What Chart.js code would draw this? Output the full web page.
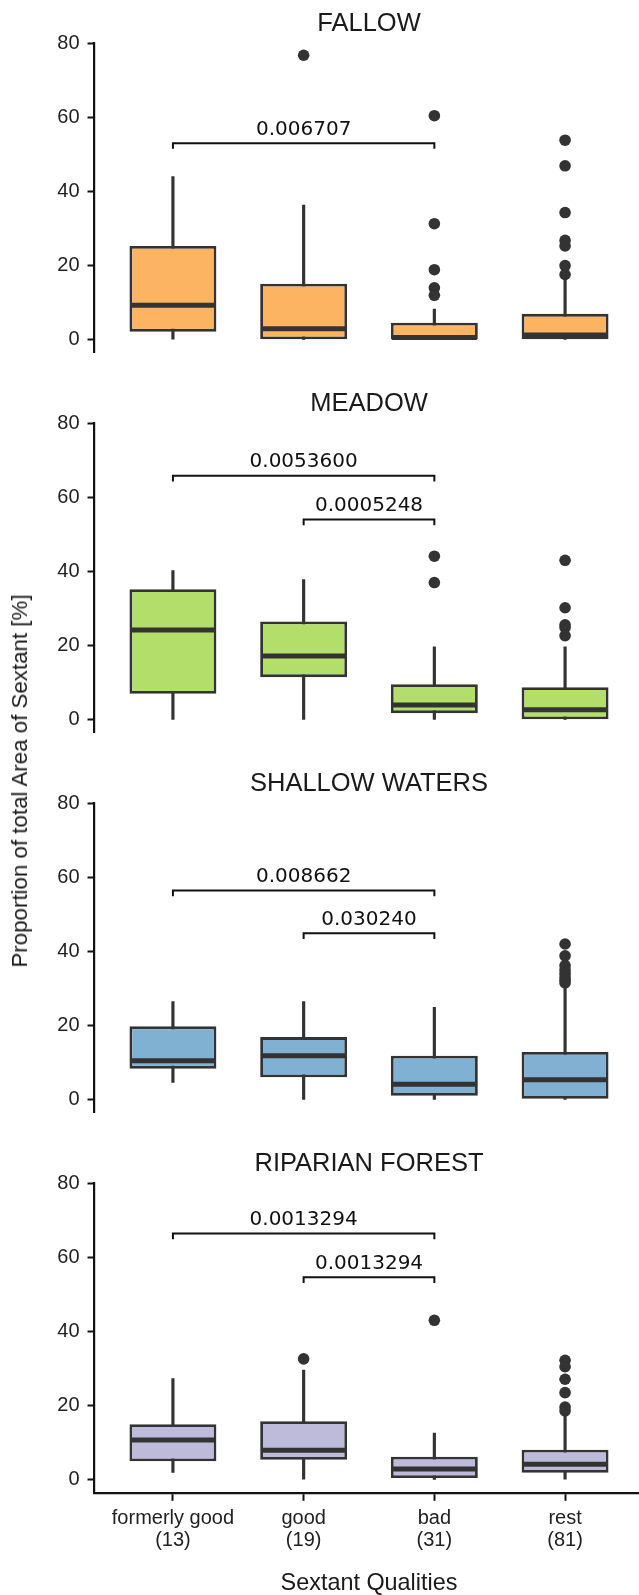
<!DOCTYPE html>
<html>
<head>
<meta charset="utf-8">
<title>Sextant qualities</title>
<script src="https://cdn.jsdelivr.net/npm/chart.js@4.4.1/dist/chart.umd.min.js"></script>
<style>
  html, body { margin: 0; padding: 0; background: #fff; }
  #wrap { position: relative; width: 639px; height: 1595px; overflow: hidden; }
  #wrap canvas { position: absolute; left: 0; }
  #ytitle {
    position: absolute; left: 20px; top: 781px;
    transform: translate(-50%, -50%) rotate(-90deg);
    white-space: nowrap; color: #1a1a1a;
    font: 22.3px 'Liberation Sans', Arial, sans-serif;
  }
</style>
</head>
<body>
<div id="wrap">
  <canvas id="c0" width="660" height="380" style="top:0px"></canvas>
  <canvas id="c1" width="660" height="380" style="top:380px"></canvas>
  <canvas id="c2" width="660" height="380" style="top:760px"></canvas>
  <canvas id="c3" width="660" height="455" style="top:1140px"></canvas>
  <div id="ytitle">Proportion of total Area of Sextant [%]</div>
</div>
<script>
// categories / tick labels
var categories = ['formerly good', 'good', 'bad', 'rest'];
var groupSizes = ['(13)', '(19)', '(31)', '(81)'];
var yTicks = [0, 20, 40, 60, 80];
var panelTitles = ['FALLOW', 'MEADOW', 'SHALLOW WATERS', 'RIPARIAN FOREST'];
var panelColors = ['#FDB462', '#B3DE69', '#80B1D3', '#BEBADA'];

// FALLOW
var fallowLow = [0.2, 0, 0, 0];
var fallowQ1 = [2.2, 0, 0, 0];
var fallowMedian = [9.3, 3.0, 0.6, 1.3];
var fallowQ3 = [25.3, 15.1, 4.6, 7.0];
var fallowHigh = [44.0, 36.3, 8.3, 16.9];
var fallowOutliers = [[], [76.7], [60.4, 31.3, 18.9, 14.0, 12.0], [53.8, 46.9, 34.3, 26.8, 25.3, 20.0, 17.6]];
var fallowTests = [['formerly good', 'bad', 53.0, '0.006707']];

// MEADOW
var meadowLow = [0, 0, 0, 0];
var meadowQ1 = [7.0, 11.5, 1.8, 0];
var meadowMedian = [24.2, 17.2, 4.0, 2.7];
var meadowQ3 = [35.2, 26.5, 9.6, 8.8];
var meadowHigh = [40.2, 37.8, 19.7, 19.7];
var meadowOutliers = [[], [], [44.1, 37.0], [43.0, 30.2, 25.6, 24.9, 22.7]];
var meadowTests = [['formerly good', 'bad', 65.8, '0.0053600'], ['good', 'bad', 54.0, '0.0005248']];

// SHALLOW WATERS
var shallowLow = [4.7, 0, 0, 0];
var shallowQ1 = [8.4, 6.1, 1.1, 0.3];
var shallowMedian = [10.5, 11.9, 4.2, 5.4];
var shallowQ3 = [19.8, 16.9, 11.9, 12.9];
var shallowHigh = [26.5, 26.5, 24.9, 30.6];
var shallowOutliers = [[], [], [], [42.0, 38.8, 36.2, 35.0, 34.0, 33.0, 32.2, 31.5]];
var shallowTests = [['formerly good', 'bad', 56.4, '0.008662'], ['good', 'bad', 44.9, '0.030240']];

// RIPARIAN FOREST
var riparianLow = [2.0, 0.2, 0, 0.2];
var riparianQ1 = [5.0, 5.4, 0.5, 1.9];
var riparianMedian = [10.7, 8.0, 2.9, 4.2];
var riparianQ3 = [15.0, 15.8, 6.2, 8.1];
var riparianHigh = [27.3, 29.6, 12.6, 17.2];
var riparianOutliers = [[], [32.6], [43.0], [32.2, 30.5, 27.1, 23.5, 19.6, 18.6]];
var riparianTests = [['formerly good', 'bad', 66.4, '0.0013294'], ['good', 'bad', 54.6, '0.0013294']];

var panels = [
  { low: fallowLow, q1: fallowQ1, med: fallowMedian, q3: fallowQ3, high: fallowHigh, out: fallowOutliers, tests: fallowTests },
  { low: meadowLow, q1: meadowQ1, med: meadowMedian, q3: meadowQ3, high: meadowHigh, out: meadowOutliers, tests: meadowTests },
  { low: shallowLow, q1: shallowQ1, med: shallowMedian, q3: shallowQ3, high: shallowHigh, out: shallowOutliers, tests: shallowTests },
  { low: riparianLow, q1: riparianQ1, med: riparianMedian, q3: riparianQ3, high: riparianHigh, out: riparianOutliers, tests: riparianTests }
];

Chart.defaults.font.family = "'Liberation Sans', Arial, sans-serif";

function rangeData(lo, hi) {
  return categories.map(function (c, i) { return { x: i + 1, y: [lo[i], hi[i]] }; });
}

// significance brackets, placed with the chart's own scales
function bracketPlugin(tests) {
  return {
    id: 'brackets',
    afterDatasetsDraw: function (chart) {
      var ctx = chart.ctx, xs = chart.scales.x, ys = chart.scales.y;
      ctx.save();
      tests.forEach(function (t) {
        var x1 = xs.getPixelForValue(categories.indexOf(t[0]) + 1);
        var x2 = xs.getPixelForValue(categories.indexOf(t[1]) + 1);
        var y = ys.getPixelForValue(t[2]);
        ctx.strokeStyle = '#111';
        ctx.lineWidth = 2;
        ctx.beginPath();
        ctx.moveTo(x1, y + 5.7);
        ctx.lineTo(x1, y);
        ctx.lineTo(x2, y);
        ctx.lineTo(x2, y + 5.7);
        ctx.stroke();
        ctx.fillStyle = '#111';
        ctx.font = '20px "DejaVu Sans"';
        ctx.textAlign = 'center';
        ctx.textBaseline = 'alphabetic';
        ctx.fillText(t[3], (x1 + x2) / 2, y - 8.5);
      });
      ctx.restore();
    }
  };
}

panels.forEach(function (p, k) {
  var isBottom = k === panels.length - 1;
  var medians = categories.map(function (c, i) { return { x: i + 1, y: p.med[i] }; });
  var pts = [];
  p.out.forEach(function (list, i) {
    list.forEach(function (v) { pts.push({ x: i + 1, y: v }); });
  });

  new Chart(document.getElementById('c' + k), {
    type: 'bar',
    data: {
      datasets: [
        { type: 'bar', data: rangeData(p.low, p.high), backgroundColor: '#333333',
          barThickness: 2.5, grouped: false, order: 3 },
        { type: 'bar', data: rangeData(p.q1, p.q3), backgroundColor: panelColors[k],
          borderColor: '#333333', borderWidth: 2.8, borderSkipped: false,
          barPercentage: 0.665, categoryPercentage: 1, grouped: false, order: 2 },
        { type: 'scatter', data: medians, pointStyle: 'line', pointRadius: 42.5, pointHoverRadius: 42.5,
          pointBorderWidth: 5, pointBorderColor: '#333333', pointBackgroundColor: '#333333', order: 1 },
        { type: 'scatter', data: pts, pointRadius: 5.8, pointHoverRadius: 5.8,
          pointBackgroundColor: '#333333', pointBorderWidth: 0, order: 0 }
      ]
    },
    options: {
      responsive: false,
      animation: false,
      events: [],
      layout: { autoPadding: false, padding: { left: 0, right: 16.5, top: 0, bottom: isBottom ? 0 : 27.2 } },
      plugins: {
        legend: { display: false },
        tooltip: { enabled: false },
        title: {
          display: true, text: panelTitles[k], fullSize: false, align: 'center',
          color: '#1a1a1a', font: { size: 25.5, weight: 'normal', lineHeight: 1.2 },
          padding: { top: 8.7, bottom: 3.7 }
        }
      },
      scales: {
        x: {
          type: 'linear', min: 0.4, max: 4.6, bounds: 'data', offset: false,
          display: isBottom,
          afterBuildTicks: function (s) {
            s.ticks = categories.map(function (c, i) { return { value: i + 1 }; });
          },
          afterFit: function (s) { if (isBottom) s.height = 102.2; },
          grid: { display: true, offset: false, drawOnChartArea: false, drawTicks: true,
                  tickLength: 8, tickWidth: 2, tickColor: '#111' },
          border: { display: true, color: '#111', width: 2.2 },
          ticks: {
            padding: 6.5, color: '#222', autoSkip: false, maxRotation: 0,
            font: { size: 20, lineHeight: 1.12 },
            callback: function (v) { return [categories[v - 1], groupSizes[v - 1]]; }
          },
          title: { display: true, text: 'Sextant Qualities', color: '#1a1a1a',
                   font: { size: 23.4, lineHeight: 1 }, padding: 0 }
        },
        y: {
          type: 'linear', min: -3.5, max: 80, bounds: 'data',
          afterBuildTicks: function (s) {
            s.ticks = yTicks.map(function (v) { return { value: v }; });
          },
          afterFit: function (s) { s.width = 94.5; },
          grid: { display: true, drawOnChartArea: false, drawTicks: true,
                  tickLength: 7, tickWidth: 2, tickColor: '#111' },
          border: { display: true, color: '#111', width: 2.2 },
          ticks: { padding: 8, color: '#222', font: { size: 20 } }
        }
      }
    },
    plugins: [bracketPlugin(p.tests)]
  });
});
</script>
</body>
</html>
